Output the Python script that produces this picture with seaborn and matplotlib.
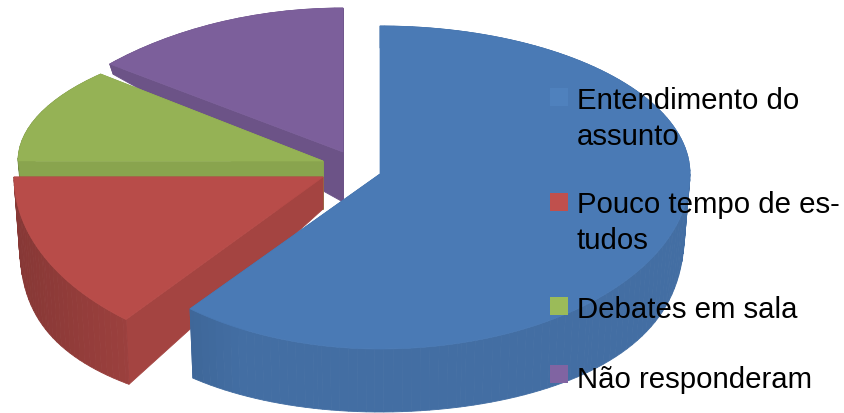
import numpy as np
import matplotlib
matplotlib.use("Agg")
import matplotlib.pyplot as plt
from matplotlib.patches import Polygon
from matplotlib.transforms import Affine2D
import seaborn as sns

sns.set_theme(style="white")
plt.rcParams['font.family'] = ['Liberation Sans', 'DejaVu Sans']

labels = ['Entendimento do\nassunto', 'Pouco tempo de es-\ntudos', 'Debates em sala', 'Não responderam']
values = [61, 14, 12, 13]
face_colors = ['#4a7ab5', '#b84c49', '#95b255', '#7c5f9b']
key_colors = ['#4f81bd', '#c0504d', '#9bbb59', '#8064a2']

# pixel geometry of each slice: centre, x radius, back / front y radius
cx = [380, 323, 323, 343]
cy = [175, 178, 162, 153]
rx_left = [298, 309, 305, 320]
rx_right = [310, 309, 305, 320]
ry_back = [148, 130, 127, 144]
ry_front = [175, 185, 130, 130]
back_power = [1, 1, 1, 1.3]
# height of the side wall
depth = [32, 32, 48, 50]
depth_back = [10, 10, 40, 58]
floor_front = [206, 205, 130, 130]
floor_power = [0.69, 0.6, 1, 1]
radial_shade = [0.90, 0.89, 0.92, 0.87]

key_y = [98, 203, 307, 375]
baselines = [109, 213, 318, 388]
line_step = 36


def project(p, t, i):
    x, y = p
    px = cx[i] + (rx_left[i] if x < 0 else rx_right[i]) * x * (1 - 0.015 * t)
    if y >= 0:
        py = cy[i] - ry_back[i] * y ** back_power[i]
        py += t * max(depth[i] - depth_back[i] * y, 5)
    else:
        top = cy[i] - ry_front[i] * y
        floor = cy[i] + depth[i] + floor_front[i] * (-y) ** floor_power[i]
        py = top + t * (floor - top)
    return px, py


def darker(color, f):
    return tuple(np.array(matplotlib.colors.to_rgb(color)) * f)


fig = plt.figure(figsize=(8.45, 4.14), dpi=100)
ax = fig.add_axes([0, 0, 1, 1])

wedges, _ = ax.pie(values, startangle=90, counterclock=False, colors=face_colors, radius=1)

for i in [3, 2, 1, 0]:
    wedge = wedges[i]
    wedge.set_visible(False)
    pts = wedge.get_path().to_polygons(Affine2D().scale(500), closed_only=False)[0] / 500

    # side walls, back to front, then the top
    quads = []
    for a, b in zip(pts[:-1], pts[1:]):
        if np.allclose(a, b):
            continue
        radial = np.hypot(*a) < 1e-3 or np.hypot(*b) < 1e-3
        if radial:
            shade = radial_shade[i]
        else:
            shade = min(radial_shade[i], 0.73 + 0.32 * ((a[0] + b[0]) / 2 + 1))
        corners = [project(a, 0, i), project(b, 0, i), project(b, 1, i), project(a, 1, i)]
        quads.append((np.mean([c[1] for c in corners[:2]]), corners, shade))
    for _, corners, shade in sorted(quads, key=lambda q: q[0]):
        c = darker(face_colors[i], shade)
        ax.add_patch(Polygon(corners, closed=True, facecolor=c, edgecolor=c, linewidth=0.6, zorder=2 + (3 - i)))
    top = [project(p, 0, i) for p in pts]
    ax.add_patch(Polygon(top, closed=True, facecolor=face_colors[i], edgecolor=face_colors[i],
                         linewidth=0.5, zorder=2 + (3 - i)))

ax.set_aspect('auto')
ax.set_xlim(0, 845)
ax.set_ylim(414, 0)
ax.axis('off')

for label, color, ky, base in zip(labels, key_colors, key_y, baselines):
    ax.scatter([559], [ky], marker='s', s=170, color=color, linewidths=0, zorder=10)
    for n, line in enumerate(label.split('\n')):
        ax.text(577, base + n * line_step, line, fontsize=21.2, color='black', va='baseline', ha='left', zorder=11)

fig.savefig('out.png', dpi=100)
